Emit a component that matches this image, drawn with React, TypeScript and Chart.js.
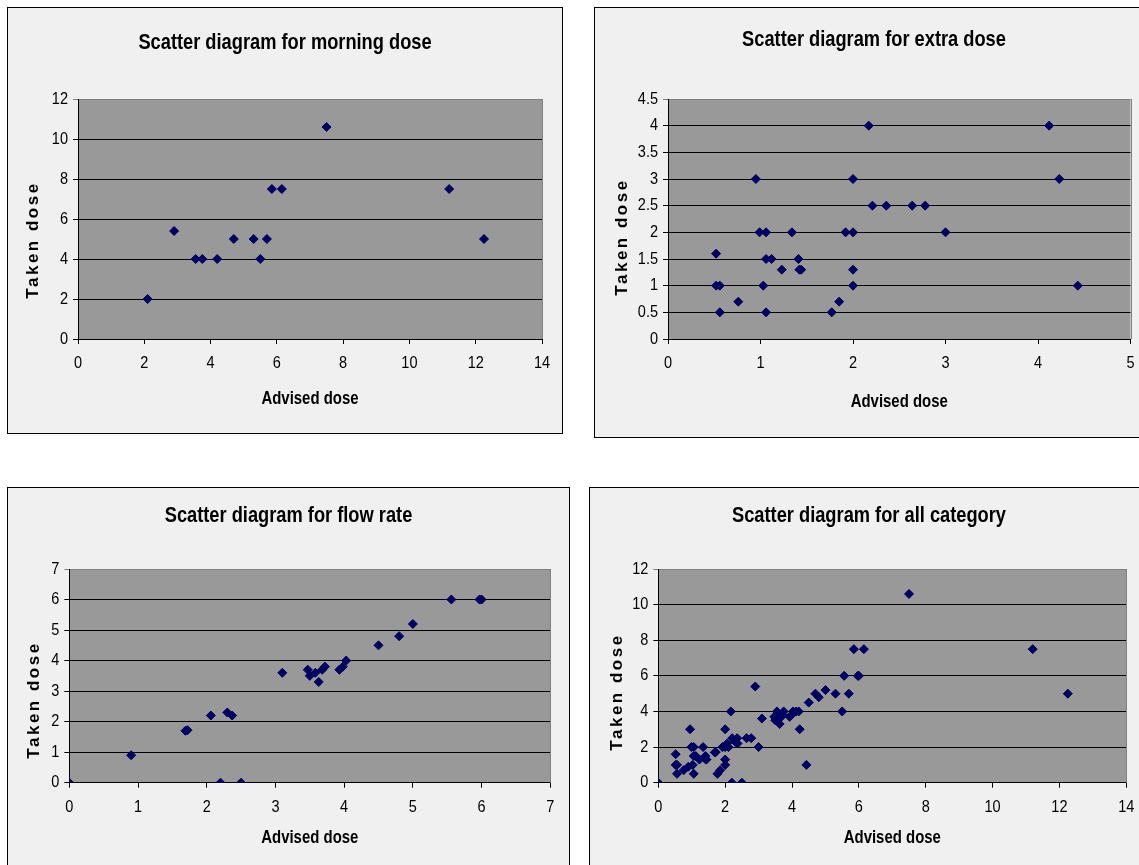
import React, { useEffect, useRef } from "react";
import { Chart, registerables } from "chart.js";

Chart.register(...registerables);

// ---------- DATA ----------
// Morning dose
const MORNING_ADVISED = [2.1, 2.9, 3.55, 3.75, 4.2, 4.7, 5.3, 5.5, 5.7, 5.85, 6.15, 7.5, 11.2, 12.25];
const MORNING_TAKEN = [2, 5.4, 4, 4, 4, 5, 5, 4, 5, 7.5, 7.5, 10.6, 7.5, 5];

// Extra dose
const EXTRA_ADVISED = [
  0.52, 0.52, 0.56, 0.56, 0.76, 0.95, 0.99, 1.06, 1.03, 1.06, 1.12, 1.06, 1.23, 1.34, 1.41, 1.42, 1.44,
  1.77, 1.85, 1.92, 2, 2, 2, 2, 2.17, 2.21, 2.36, 2.64, 2.78, 3, 4.12, 4.23, 4.43,
];
const EXTRA_TAKEN = [
  1.6, 1, 1, 0.5, 0.7, 3, 2, 2, 1, 1.5, 1.5, 0.5, 1.3, 2, 1.5, 1.3, 1.3,
  0.5, 0.7, 2, 2, 3, 1.3, 1, 4, 2.5, 2.5, 2.5, 2.5, 2, 4, 3, 1,
];

// Flow rate
const FLOW_ADVISED = [
  0, 0.9, 1.69, 1.72, 2.06, 2.2, 2.3, 2.37, 2.5, 3.1, 3.47, 3.5, 3.58, 3.63, 3.68, 3.72, 3.93, 3.98, 4.03,
  4.5, 4.8, 5, 5.56, 5.97, 6,
];
const FLOW_TAKEN = [
  0, 0.9, 1.7, 1.72, 2.2, 0, 2.3, 2.2, 0, 3.6, 3.7, 3.5, 3.6, 3.3, 3.7, 3.8, 3.7, 3.8, 4,
  4.5, 4.8, 5.2, 6, 6, 6,
];

// All categories (union of the three)
const ALL_ADVISED = [...MORNING_ADVISED, ...EXTRA_ADVISED, ...FLOW_ADVISED];
const ALL_TAKEN = [...MORNING_TAKEN, ...EXTRA_TAKEN, ...FLOW_TAKEN];

// Tick labels
const TICKS_0_14 = [0, 2, 4, 6, 8, 10, 12, 14];
const TICKS_0_12 = [0, 2, 4, 6, 8, 10, 12];
const TICKS_0_5 = [0, 1, 2, 3, 4, 5];
const TICKS_0_45 = [0, 0.5, 1, 1.5, 2, 2.5, 3, 3.5, 4, 4.5];
const TICKS_0_7 = [0, 1, 2, 3, 4, 5, 6, 7];

const TITLES = [
  "Scatter diagram for morning dose",
  "Scatter diagram for extra dose",
  "Scatter diagram for flow rate",
  "Scatter diagram for all category",
];
const X_TITLE = "Advised dose";
const Y_TITLE = "Taken dose";

// ---------- STYLE ----------
const FONT = "'Liberation Sans', Arial, sans-serif";
const MARKER = "#000060";
const PLOT_BG = "#999999";
const BOX_BG = "#f0f0f0";
const BOLD_SQUEEZE = 0.83;
const NORMAL_SQUEEZE = 0.88;

// Render Chart.js text condensed (like Arial Narrow) using fillText's maxWidth.
function installNarrowText(ctx: any) {
  if (ctx.__origFillText) return;
  const orig = ctx.fillText;
  ctx.__origFillText = orig;
  ctx.fillText = function (text: string, x: number, y: number, maxWidth?: number) {
    const bold = /bold|700/.test(this.font);
    const w = this.measureText(text).width * (bold ? BOLD_SQUEEZE : NORMAL_SQUEEZE);
    const mw = maxWidth === undefined ? w : Math.min(maxWidth, w);
    orig.call(this, text, x, y, mw);
  };
}

const plotBgPlugin = {
  id: "plotBg",
  beforeDraw(chart: any) {
    const { ctx, chartArea } = chart;
    if (!chartArea) return;
    ctx.save();
    ctx.fillStyle = PLOT_BG;
    ctx.fillRect(chartArea.left, chartArea.top, chartArea.right - chartArea.left, chartArea.bottom - chartArea.top);
    ctx.restore();
  },
  beforeDatasetsDraw(chart: any) {
    const { ctx, chartArea } = chart;
    ctx.save();
    ctx.strokeStyle = "#808080";
    ctx.lineWidth = 1;
    const x = Math.round(chartArea.right) + 0.5;
    ctx.beginPath();
    ctx.moveTo(x, chartArea.top);
    ctx.lineTo(x, chartArea.bottom);
    ctx.stroke();
    ctx.restore();
  },
};

const yTitlePlugin = {
  id: "yTitleSpaced",
  afterLayout(chart: any, _args: any, opts: any) {
    const scale: any = chart.scales.y;
    if (!scale) return;
    scale.drawTitle = function () {
      const t = this.options.title;
      const ctx: any = this.ctx;
      ctx.save();
      ctx.translate(opts.x, opts.y);
      ctx.rotate(-Math.PI / 2);
      ctx.font = `bold 17px ${FONT}`;
      ctx.letterSpacing = "2.5px";
      ctx.fillStyle = "#000";
      ctx.textAlign = "center";
      ctx.textBaseline = "middle";
      (ctx.__origFillText || ctx.fillText).call(ctx, t.text, 0, 0);
      ctx.restore();
    };
  },
};

type Box = { left: number; top: number; width: number; height: number };
type Plot = { left: number; right: number; top: number; bottom: number };

type PanelProps = {
  title: string;
  xs: number[];
  ys: number[];
  xTicks: number[];
  yTicks: number[];
  box: Box;
  plot: Plot;
  titleY: number;
  xTitleY: number;
  yTitleX: number;
  yTitleY: number;
};

function Panel(p: PanelProps) {
  const ref = useRef<HTMLCanvasElement | null>(null);
  const cw = p.box.width - 2;
  const ch = p.box.height - 2;

  useEffect(() => {
    if (!ref.current) return;
    installNarrowText(ref.current.getContext("2d"));
    const ox = p.box.left + 1;
    const oy = p.box.top + 1;
    const L = p.plot.left - ox;
    const R = p.plot.right - ox;
    const T = p.plot.top - oy;
    const B = p.plot.bottom - oy;
    const padR = cw - R;
    const titleSize = 22;
    const titleLH = titleSize * 1.2;
    const tTop = p.titleY - oy - titleLH / 2;
    const tBottom = T - tTop - titleLH;
    const xTitleSize = 18;
    const xH = p.xTitleY - oy - B + (xTitleSize * 1.2) / 2;
    const padB = ch - B - xH;
    const xMax = p.xTicks[p.xTicks.length - 1];
    const yMax = p.yTicks[p.yTicks.length - 1];

    const chart = new Chart(ref.current, {
      type: "scatter",
      data: {
        datasets: [
          {
            data: p.xs.map((x, i) => ({ x, y: p.ys[i] })),
            pointStyle: "rectRot",
            pointRadius: 4.5,
            pointHoverRadius: 4.5,
            backgroundColor: MARKER,
            borderColor: MARKER,
            borderWidth: 1,
          },
        ],
      },
      options: {
        animation: false,
        responsive: false,
        devicePixelRatio: 1,
        events: [],
        layout: { padding: { left: padR, right: padR, top: 0, bottom: padB } },
        plugins: {
          legend: { display: false },
          tooltip: { enabled: false },
          title: {
            display: true,
            text: p.title,
            color: "#000",
            font: { family: FONT, size: titleSize, weight: "bold" },
            padding: { top: tTop, bottom: tBottom },
          },
          yTitleSpaced: { x: p.yTitleX - ox, y: p.yTitleY - oy },
        } as any,
        scales: {
          x: {
            type: "linear",
            min: p.xTicks[0],
            max: xMax,
            afterBuildTicks: (s: any) => {
              s.ticks = p.xTicks.map((v) => ({ value: v }));
            },
            afterFit: (s: any) => {
              s.height = xH;
            },
            ticks: {
              autoSkip: false,
              maxRotation: 0,
              padding: 9.5,
              color: "#000",
              font: { family: FONT, size: 16.5 },
              callback: (v: any) => String(v),
            },
            grid: {
              display: true,
              drawOnChartArea: false,
              drawTicks: true,
              tickLength: 5,
              color: "#000",
            },
            border: { display: true, color: "#000", width: 1 },
            title: {
              display: true,
              text: X_TITLE,
              color: "#000",
              font: { family: FONT, size: xTitleSize, weight: "bold" },
              padding: { top: 0, bottom: 0 },
            },
          },
          y: {
            type: "linear",
            min: p.yTicks[0],
            max: yMax,
            afterBuildTicks: (s: any) => {
              s.ticks = p.yTicks.map((v) => ({ value: v }));
            },
            afterFit: (s: any) => {
              s.width = L - padR;
            },
            ticks: {
              autoSkip: false,
              padding: 5,
              color: "#000",
              font: { family: FONT, size: 16.5 },
              callback: (v: any) => String(v),
            },
            grid: {
              display: true,
              drawOnChartArea: true,
              drawTicks: true,
              tickLength: 5,
              lineWidth: 1,
              color: (c: any) => (c.tick && c.tick.value === yMax ? "#808080" : "#000"),
            },
            border: { display: true, color: "#000", width: 1 },
            title: {
              display: true,
              text: Y_TITLE,
              color: "#000",
              font: { family: FONT, size: 17, weight: "bold" },
            },
          },
        },
      } as any,
      plugins: [plotBgPlugin, yTitlePlugin],
    });
    return () => chart.destroy();
  }, []);

  return (
    <div
      style={{
        position: "absolute",
        left: p.box.left,
        top: p.box.top,
        width: p.box.width,
        height: p.box.height,
        boxSizing: "border-box",
        border: "1px solid #000",
        background: BOX_BG,
      }}
    >
      <canvas ref={ref} width={cw} height={ch} style={{ display: "block", width: cw, height: ch }} />
    </div>
  );
}

export default function App() {
  return (
    <div
      style={{
        position: "fixed",
        left: 0,
        top: 0,
        width: 1139,
        height: 865,
        overflow: "hidden",
        background: "#fff",
      }}
    >
      <Panel
        title={TITLES[0]}
        xs={MORNING_ADVISED}
        ys={MORNING_TAKEN}
        xTicks={TICKS_0_14}
        yTicks={TICKS_0_12}
        box={{ left: 7, top: 7, width: 556, height: 427 }}
        plot={{ left: 78, right: 542, top: 99, bottom: 339 }}
        titleY={43}
        xTitleY={399}
        yTitleX={33}
        yTitleY={240}
      />
      <Panel
        title={TITLES[1]}
        xs={EXTRA_ADVISED}
        ys={EXTRA_TAKEN}
        xTicks={TICKS_0_5}
        yTicks={TICKS_0_45}
        box={{ left: 594, top: 7, width: 560, height: 431 }}
        plot={{ left: 668, right: 1130.5, top: 99, bottom: 339 }}
        titleY={40}
        xTitleY={402}
        yTitleX={622}
        yTitleY={237}
      />
      <Panel
        title={TITLES[2]}
        xs={FLOW_ADVISED}
        ys={FLOW_TAKEN}
        xTicks={TICKS_0_7}
        yTicks={TICKS_0_7}
        box={{ left: 7, top: 487, width: 563, height: 400 }}
        plot={{ left: 69.3, right: 550.3, top: 569, bottom: 782.7 }}
        titleY={516}
        xTitleY={838}
        yTitleX={34}
        yTitleY={700}
      />
      <Panel
        title={TITLES[3]}
        xs={ALL_ADVISED}
        ys={ALL_TAKEN}
        xTicks={TICKS_0_14}
        yTicks={TICKS_0_12}
        box={{ left: 589, top: 487, width: 560, height: 400 }}
        plot={{ left: 658.3, right: 1126.3, top: 569, bottom: 782.7 }}
        titleY={516}
        xTitleY={838}
        yTitleX={617}
        yTitleY={692}
      />
    </div>
  );
}
